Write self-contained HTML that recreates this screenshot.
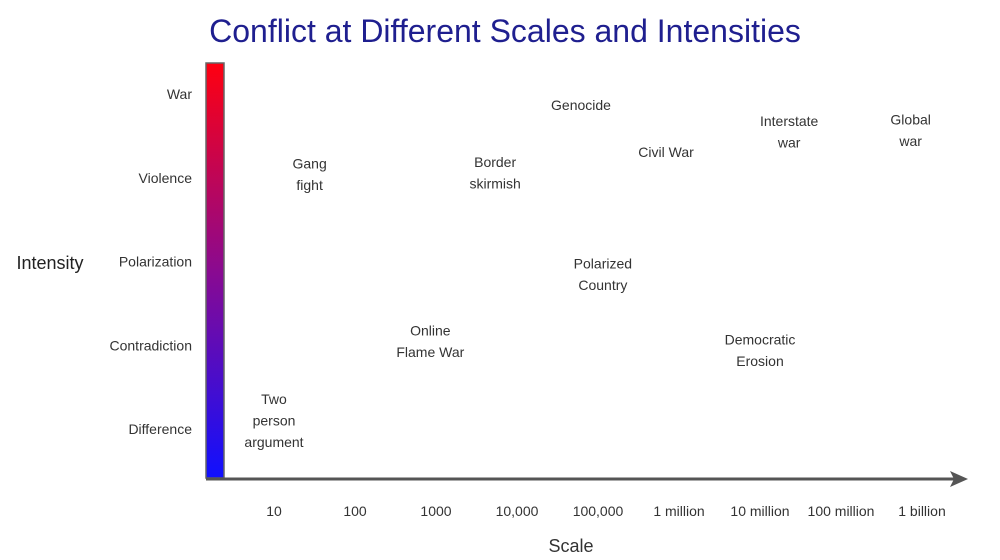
<!DOCTYPE html>
<html><head><meta charset="utf-8"><style>
body{margin:0;background:#fff;}
svg{display:block;font-family:"Liberation Sans",sans-serif;}
</style></head><body>
<svg id="chart" width="1000" height="560">
<defs><linearGradient id="g" x1="0" y1="0" x2="0" y2="1"><stop offset="0" stop-color="#ff0010"/><stop offset="0.5" stop-color="#8a0a90"/><stop offset="1" stop-color="#1010ff"/></linearGradient></defs>
<text x="505" y="42" text-anchor="middle" font-size="32" fill="#1f1f8f">Conflict at Different Scales and Intensities</text>
<rect x="206" y="63" width="18" height="415" fill="url(#g)" stroke="#666" stroke-width="1.5"/>
<line x1="206" y1="479" x2="955" y2="479" stroke="#555" stroke-width="3"/>
<polygon points="968,479 950,471 954,479 950,487" fill="#555"/>
<text x="50" y="269" text-anchor="middle" font-size="18" fill="#222">Intensity</text>
<text x="571" y="552" text-anchor="middle" font-size="18" fill="#333">Scale</text>
<g id="yt"></g><g id="xt"></g><g id="pts"></g>
</svg>
<script>
const intensityLabels=["Difference","Contradiction","Polarization","Violence","War"];
const scaleLabels=["10","100","1000","10,000","100,000","1 million","10 million","100 million","1 billion"];
const scaleExponents=[1,2,3,4,5,6,7,8,9];
const conflictNames=[["Two","person","argument"],["Gang","fight"],["Online","Flame War"],["Border","skirmish"],["Genocide"],["Polarized","Country"],["Civil War"],["Democratic","Erosion"],["Interstate","war"],["Global","war"]];
const conflictScale=[1,1.44,2.93,3.73,4.79,5.06,5.84,7.0,7.36,8.86];
const conflictIntensity=[0.1,3.04,1.05,3.06,3.87,1.85,3.31,0.94,3.55,3.57];
const NS="http://www.w3.org/2000/svg";
function x(e){return 274+(e-1)*81;}
function y(l){return 429-l*83.75;}
function t(parent,xx,yy,s,size,anchor){const el=document.createElementNS(NS,"text");el.setAttribute("x",xx);el.setAttribute("y",yy);el.setAttribute("font-size",size);el.setAttribute("fill","#333");el.setAttribute("text-anchor",anchor);el.textContent=s;parent.appendChild(el);return el;}
const yt=document.getElementById("yt");
intensityLabels.forEach((s,i)=>{const el=t(yt,192,y(i)+5,s,14,"end");

});
const xt=document.getElementById("xt");
scaleLabels.forEach((s,i)=>{const el=t(xt,x(scaleExponents[i]),516,s,14,"middle");

});
const pts=document.getElementById("pts");
conflictNames.forEach((lines,i)=>{const cx=x(conflictScale[i]),cy=y(conflictIntensity[i]);const n=lines.length;
lines.forEach((s,j)=>{const el=t(pts,cx,cy+(j-(n-1)/2)*21.5+5,s,14,"middle");

});});
</script>
</body></html>
